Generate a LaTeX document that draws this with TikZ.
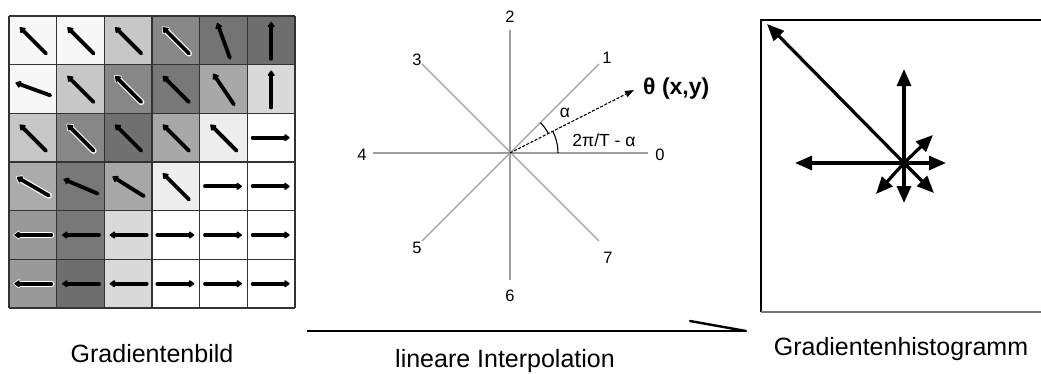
\documentclass[tikz,border=0pt]{standalone}
\usepackage{fontspec}
\setmainfont{Liberation Sans}
\usetikzlibrary{arrows.meta,calc}
\begin{document}
\begin{tikzpicture}[x=1pt,y=-1pt,
  cellarrow/.style={line width=3.8pt,-{Triangle[length=6pt,width=8pt,round]},line cap=round},
  halo/.style={line width=6.2pt,white,line cap=round,-{Triangle[length=7pt,width=10.5pt,round]}},
  gridline/.style={draw=black!80,line width=1.1pt},
  starline/.style={draw=black!38,line width=1.1pt},
  anglearc/.style={draw=black,line width=1.1pt},
  histarrow/.style={line width=3.2pt,-{Triangle[length=17pt,width=14pt]}},
  num/.style={font=\fontsize{16.5}{16.5}\selectfont,inner sep=0pt},
  small/.style={font=\fontsize{17.5}{17.5}\selectfont,inner sep=0pt},
  lbl/.style={font=\fontsize{25}{25}\selectfont,inner sep=0pt,anchor=base},
]
\useasboundingbox (0,0) rectangle (1041,373);
% ---------- Gradientenbild ----------
\def\gx{9}\def\gy{16}\def\cw{47.67}\def\ch{48.67}
\foreach \r/\c/\g/\a/\h in {
 1/1/3/135/0, 1/2/3/135/0, 1/3/22/135/0, 1/4/47/135/1, 1/5/55/110/0, 1/6/57/90/0,
 2/1/3/160/0, 2/2/22/135/0, 2/3/47/135/1, 2/4/53/135/0, 2/5/34/124/0, 2/6/15/90/0,
 3/1/22/135/0, 3/2/47/135/1, 3/3/56/135/0, 3/4/34/135/0, 3/5/7/135/0, 3/6/0/0/0,
 4/1/33/150/1, 4/2/53/157/0, 4/3/34/148/0, 4/4/7/135/0, 4/5/0/0/0, 4/6/0/0/0,
 5/1/40/180/1, 5/2/53/180/0, 5/3/15/180/0, 5/4/0/0/0, 5/5/0/0/0, 5/6/0/0/0,
 6/1/40/180/1, 6/2/57/180/0, 6/3/15/180/0, 6/4/0/0/0, 6/5/0/0/0, 6/6/0/0/0}{
  \fill[black!\g] ({\gx+(\c-1)*\cw},{\gy+(\r-1)*\ch}) rectangle ({\gx+\c*\cw},{\gy+\r*\ch});
  \coordinate (cc) at ({\gx+(\c-0.5)*\cw},{\gy+(\r-0.5)*\ch});
  \ifnum\h=1
    \draw[halo] ($(cc)+(180-\a:18.5)$) -- ($(cc)+(-\a:19.5)$);
  \fi
  \draw[cellarrow] ($(cc)+(180-\a:18.5)$) -- ($(cc)+(-\a:18.5)$);
}
\foreach \i in {0,...,6}{
  \draw[gridline] ({\gx+\i*\cw},\gy) -- ({\gx+\i*\cw},{\gy+6*\ch});
  \draw[gridline] (\gx,{\gy+\i*\ch}) -- ({\gx+6*\cw},{\gy+\i*\ch});
}
% ---------- Stern ----------
\coordinate (O) at (510,153);
\coordinate (s0) at (648,153); \coordinate (s4) at (373,153);
\coordinate (s2) at (510,30);  \coordinate (s6) at (510,280);
\coordinate (s1) at (599,64);  \coordinate (s5) at (422,241);
\coordinate (s3) at (422,64);  \coordinate (s7) at (599,241);
\draw[starline] (s4) -- (s0);
\draw[starline] (s2) -- (s6);
\draw[starline] (s3) -- (s7);
\draw[starline] (s5) -- (s1);
\coordinate (th) at (634,90);
\draw[line width=1.1pt,dash pattern=on 3pt off 1.6pt,-{Triangle[length=9pt,width=6.5pt]}] (O) -- (th);
\draw[anglearc] ($(O)+(-27:43)$) arc[start angle=-27,end angle=-45,radius=43];
\draw[anglearc] ($(O)+(0:48)$) arc[start angle=0,end angle=-27,radius=48];
\node[num] (n2) at (510,17) {2};
\node[num] (n3) at (417,60) {3};
\node[num] (n1) at (607,58) {1};
\node[num] (n4) at (362,155) {4};
\node[num] (n0) at (660,155) {0};
\node[num] (n5) at (417,248) {5};
\node[num] (n7) at (608,258) {7};
\node[num] (n6) at (510,296) {6};
\node[small] (alab) at (565,113) {α};
\node[small] (blab) at (604,140) {2π/T - α};
\node[font=\fontsize{23}{23}\selectfont\bfseries,inner sep=0pt,anchor=west] (thl) at (643,89) {θ (x,y)};
% ---------- Histogramm ----------
\draw[line width=1.2pt] (1041,20) -- (761,20) -- (761,312);
\draw[line width=1.4pt,black!55] (761,312) -- (1041,312);
\coordinate (H) at (904,163);
\coordinate (h3) at (767,24);
\coordinate (h2) at (904,69);
\coordinate (h4) at (795,163);
\coordinate (h0) at (946,163);
\coordinate (h1) at (933,135);
\coordinate (h7) at (934,193);
\coordinate (h6) at (904,203);
\coordinate (h5) at (876,194);
\foreach \t in {h3,h2,h4,h0,h1,h7,h6,h5}{\draw[histarrow] (H) -- (\t);}
% ---------- Pfeil unten ----------
\coordinate (ia) at (307,331);
\coordinate (ib) at (746,331);
\coordinate (ic) at (690,321);
\draw[line width=2.6pt] (ia) -- (ib);
\draw[line width=2.4pt,line cap=round] (ic) -- (ib);
% ---------- Beschriftungen ----------
\node[lbl] (t1) at (152,362) {Gradientenbild};
\node[lbl] (t2) at (505,367) {lineare Interpolation};
\node[lbl] (t3) at (901,355) {Gradientenhistogramm};
\end{tikzpicture}
\end{document}
